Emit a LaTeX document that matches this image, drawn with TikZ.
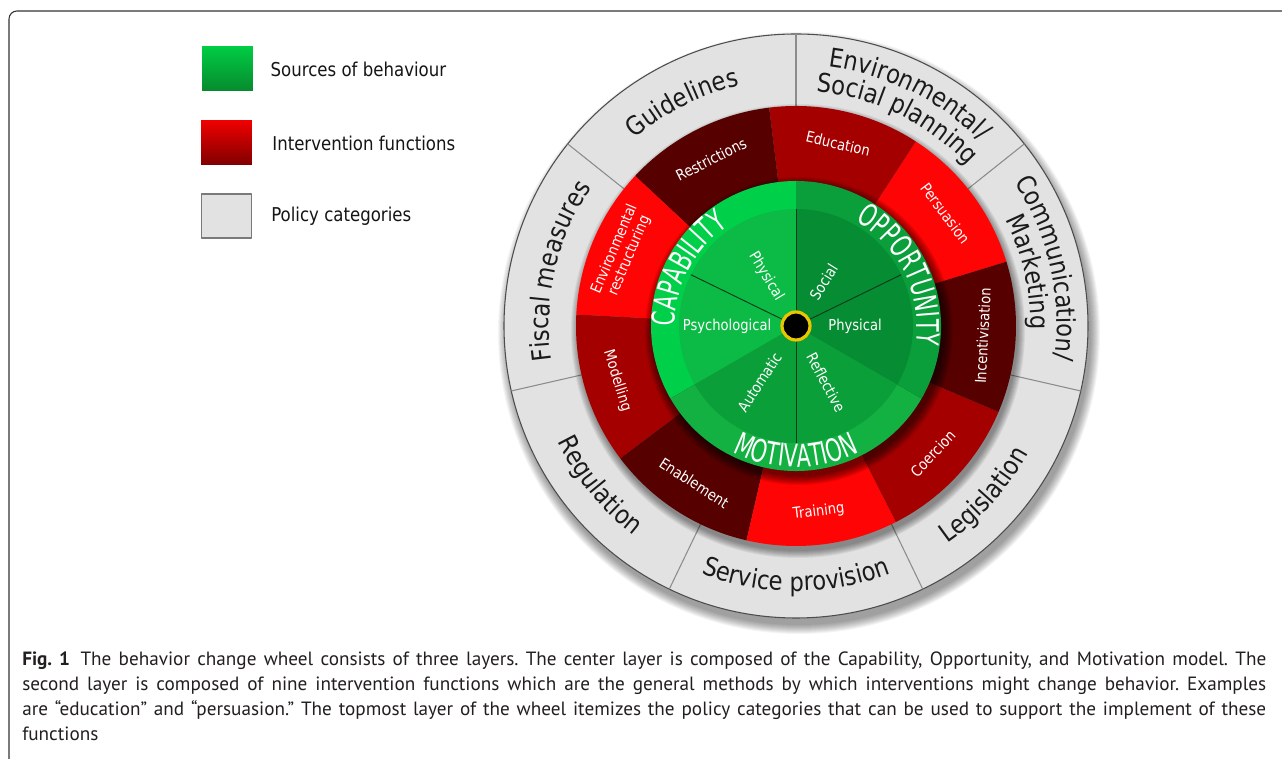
\documentclass[tikz,border=0pt]{standalone}
\usepackage{fontspec}
\setmainfont{PT Sans}
\newfontfamily\wheelfont[FakeStretch=0.87]{DejaVu Sans}
\newfontfamily\narrowfont[FakeStretch=0.66]{DejaVu Sans}
\usetikzlibrary{positioning,decorations.text}

\definecolor{framecol}{HTML}{333333}
\definecolor{captext}{HTML}{231F20}
\definecolor{legendink}{HTML}{151515}
\definecolor{policyink}{HTML}{1A1A1A}
\definecolor{polfill}{HTML}{E2E2E2}
\definecolor{polrule}{HTML}{8C8C8C}
\definecolor{poledge}{HTML}{4D4D4D}
\definecolor{polkey}{HTML}{7A7A7A}
\definecolor{legsrctop}{HTML}{00CC44}
\definecolor{legsrcbot}{HTML}{078A2E}
\definecolor{legfntop}{HTML}{EE0000}
\definecolor{legfnbot}{HTML}{800000}
\definecolor{fnbright}{HTML}{FF0404}
\definecolor{fndark}{HTML}{A40000}
\definecolor{fndeep}{HTML}{560000}
\definecolor{capout}{HTML}{00D049}
\definecolor{capin}{HTML}{0BBB45}
\definecolor{oppout}{HTML}{0A9F3B}
\definecolor{oppin}{HTML}{068C33}
\definecolor{motout}{HTML}{12B142}
\definecolor{motin}{HTML}{0B9F3A}
\definecolor{spoke}{HTML}{0E3A1C}
\definecolor{hubgold}{HTML}{E9C600}

\newcommand\policyfont{\wheelfont\fontsize{19.5}{21}\selectfont}
\newcommand\sourcefont{\narrowfont\fontsize{23.5}{25}\selectfont}
\newcommand\fnfont{\wheelfont\fontsize{11.3}{12.2}\selectfont}

\tikzset{
  legendbox/.style={minimum width=38pt, minimum height=33pt, inner sep=0pt},
  legendtext/.style={font=\wheelfont\fontsize{14.3}{16}\selectfont, text=legendink, inner sep=0pt, anchor=west},
  fnlabel/.style={font=\fnfont, text=white, inner sep=0pt, align=center},
  srclabel/.style={font=\fnfont, text=white, inner sep=0pt},
  policylabel/.style={decorate, decoration={text along path, text align=center, text color=policyink, text={|\policyfont|#1}}},
  sourcelabel/.style={decorate, decoration={text along path, text align=center, text color=white, text={|\sourcefont|#1}}},
  captionline/.style={anchor=base west, inner sep=0pt, font=\fontsize{14.4}{16}\selectfont, text=captext}
}

\begin{document}
\frenchspacing
\begin{tikzpicture}[x=0.75pt, y=0.75pt, line join=round]
\useasboundingbox (0,0) rectangle (1282,759);
\clip (0,0) rectangle (1282,759);
\fill[white] (0,0) rectangle (1282,759);
\draw[framecol, line width=0.8pt, rounded corners=6pt] (9,-10) -- (9,748) -- (1292,748);

% legend
\node[legendbox, top color=legsrctop, bottom color=legsrcbot] (srcbox) at (227.5,690) {};
\node[legendbox, top color=legfntop, bottom color=legfnbot] (fnbox) at (226.5,616) {};
\node[legendbox, fill=polfill, draw=polkey, line width=0.8pt] (polbox) at (226.5,543) {};
\node[legendtext, right=13pt of srcbox] (srctext) {Sources of behaviour};
\node[legendtext, right=15pt of fnbox] (fntext) {Intervention functions};
\node[legendtext, right=14pt of polbox] (poltext) {Policy categories};

\coordinate (hub) at (796,433);
\begin{scope}[shift={(hub)}]
  % soft shadow under the wheel
  \foreach \i in {1,...,10}
    \fill[black, opacity=0.045] (3,-7) circle (302-\i);
  % policy categories
  \filldraw[fill=polfill, draw=poledge, line width=0.8pt] (0,0) circle (292);
  \foreach \k in {0,...,6}
    \draw[polrule, line width=0.8pt] ({90+\k*360/7}:220) -- ({90+\k*360/7}:292);
  \foreach \i in {1,...,8}
    \fill[black, opacity=0.06] (2,-5) circle (228-\i);
  % intervention functions
  \foreach \a/\col in {17/fnbright, 57/fndark, 97/fndeep, 137/fnbright, 177/fndark, 217/fndeep, 257/fnbright, 297/fndark, 337/fndeep}
    \fill[\col] (0,0) -- (\a:220) arc[start angle=\a, delta angle=40, radius=220] -- cycle;
  \foreach \i in {1,...,10}
    \fill[black, opacity=0.07] (3,-5) circle (155-\i);
  % sources of behaviour
  \foreach \a/\ringcol/\corecol in {90/capout/capin, 210/motout/motin, 330/oppout/oppin}{
    \fill[\ringcol] (0,0) -- (\a:145) arc[start angle=\a, delta angle=120, radius=145] -- cycle;
    \fill[\corecol] (0,0) -- (\a:117) arc[start angle=\a, delta angle=120, radius=117] -- cycle;
  }
  \foreach \a in {26,90,154,270}
    \draw[spoke, line width=0.7pt] (0,0) -- (\a:117);

  \path[sourcelabel=CAPABILITY] (210:121) arc[start angle=210, end angle=94, radius=121];
  \path[sourcelabel=OPPORTUNITY] (86:121) arc[start angle=86, end angle=-34, radius=121];
  \path[sourcelabel=MOTIVATION] (215:141) arc[start angle=215, end angle=325, radius=141];

  \foreach \ang/\rad/\rot/\txt in {121/58/-59/Physical, 180/69/0/Psychological, 237/67/57/Automatic, 298/64/-62/Reflective, 0/59/0/Physical, 58/52/58/Social}
    \node[srclabel, rotate=\rot] (src-\ang) at (\ang:\rad) {\txt};

  \foreach \ang/\txt in {37/Persuasion, 77/Education, 117/Restrictions, 197/Modelling, 237/Enablement, 277/Training, 317/Coercion, 357/Incentivisation}{
    \pgfmathsetmacro\rot{sin(\ang)>0 ? \ang-90 : \ang+90}
    \node[fnlabel, rotate=\rot] (fn-\txt) at (\ang:187) {\txt};
  }
  \node[fnlabel, rotate=67] (fn-Environmental) at (157:189) {Environmental\\restructuring};

  \path[policylabel=Guidelines] (187:247) arc[start angle=187, end angle=47, radius=247];
  \path[policylabel=Fiscal measures] (237:247) arc[start angle=237, end angle=97, radius=247];
  \path[policylabel=Environmental/] (134:261) arc[start angle=134, end angle=-6, radius=261];
  \path[policylabel=Social planning] (134:235) arc[start angle=134, end angle=-6, radius=235];
  \path[policylabel=Communication/] (83:261) arc[start angle=83, end angle=-57, radius=261];
  \path[policylabel=Marketing] (83:235) arc[start angle=83, end angle=-57, radius=235];
  \path[policylabel=Regulation] (149:265) arc[start angle=149, end angle=289, radius=265];
  \path[policylabel=Service provision] (200:265) arc[start angle=200, end angle=340, radius=265];
  \path[policylabel=Legislation] (248:265) arc[start angle=248, end angle=388, radius=265];

  \filldraw[fill=black, draw=hubgold, line width=2.4pt] (0,0) circle (14);
\end{scope}

% caption
\node[captionline] (cap1) at (22,93) {\makebox[933pt][s]{\textbf{Fig.~1}\hspace{0.55em}The behavior change wheel consists of three layers. The center layer is composed of the Capability, Opportunity, and Motivation model. The}};
\node[captionline] (cap2) at (22,68) {\makebox[933pt][s]{second layer is composed of nine intervention functions which are the general methods by which interventions might change behavior. Examples}};
\node[captionline] (cap3) at (22,43) {\makebox[933pt][s]{are “education” and “persuasion.” The topmost layer of the wheel itemizes the policy categories that can be used to support the implement of these}};
\node[captionline] (cap4) at (22,18) {functions};
\end{tikzpicture}
\end{document}
